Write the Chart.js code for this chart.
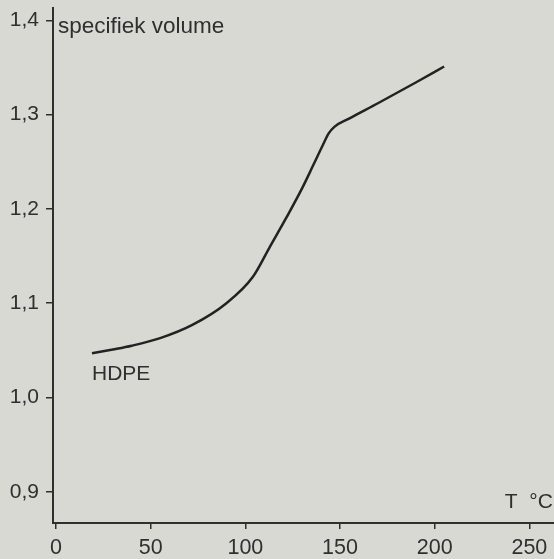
<!DOCTYPE html>
<html>
<head>
<meta charset="utf-8">
<script src="https://cdn.jsdelivr.net/npm/chart.js@4/dist/chart.umd.min.js"></script>
<style>
  html, body { margin: 0; padding: 0; background: #d9d9d4; }
  #wrap { width: 554px; height: 559px; position: relative; }
</style>
</head>
<body>
<div id="wrap"><canvas id="c"></canvas></div>
<script>
// Temperature (°C) and specific volume of HDPE
const temperature = [19, 30, 40, 55, 72, 90, 104, 113, 122, 130, 136, 141, 144, 147, 155, 170, 190, 205];
const specificVolume = [1.047, 1.051, 1.055, 1.063, 1.077, 1.100, 1.128, 1.160, 1.192, 1.222, 1.247, 1.268, 1.280, 1.287, 1.296, 1.312, 1.334, 1.351];
const xTicks = [0, 50, 100, 150, 200, 250];
const yTicks = [0.9, 1.0, 1.1, 1.2, 1.3, 1.4];
const yTickLabels = ['0,9', '1,0', '1,1', '1,2', '1,3', '1,4'];
const yAxisLabel = 'specifiek volume';
const xAxisLabel = 'T  °C';
const seriesLabel = 'HDPE';

const ink = '#2f2f2f';
const font = 'Liberation Sans, Arial, Helvetica, sans-serif';

const bgPlugin = {
  id: 'bg',
  beforeDraw(chart) {
    const ctx = chart.ctx;
    ctx.save();
    ctx.fillStyle = '#d9d9d4';
    ctx.fillRect(0, 0, chart.width, chart.height);
    ctx.restore();
  }
};

const labelPlugin = {
  id: 'labels',
  afterDraw(chart) {
    const ctx = chart.ctx;
    const xs = chart.scales.x, ys = chart.scales.y;
    ctx.save();
    ctx.fillStyle = ink;
    ctx.textBaseline = 'alphabetic';
    ctx.textAlign = 'left';
    ctx.font = '22.5px ' + font;
    ctx.fillText(yAxisLabel, xs.left + 5, ys.getPixelForValue(1.4) + 13);
    ctx.font = '21px ' + font;
    ctx.fillText(seriesLabel, xs.getPixelForValue(temperature[0]), ys.getPixelForValue(specificVolume[0]) + 27);
    ctx.fillText(xAxisLabel, xs.getPixelForValue(237), ys.bottom - 15);
    ctx.restore();
  }
};

new Chart(document.getElementById('c'), {
  type: 'line',
  data: {
    datasets: [{
      label: seriesLabel,
      data: temperature.map((t, i) => ({ x: t, y: specificVolume[i] })),
      borderColor: '#222',
      borderWidth: 2.5,
      pointRadius: 0,
      fill: false,
      cubicInterpolationMode: 'monotone'
    }]
  },
  options: {
    responsive: true,
    maintainAspectRatio: false,
    animation: false,
    layout: { padding: { top: 8, right: 0, left: 0, bottom: 0 } },
    plugins: { legend: { display: false }, tooltip: { enabled: false } },
    scales: {
      x: {
        type: 'linear',
        min: -1.6,
        max: 263,
        afterBuildTicks: s => { s.ticks = xTicks.map(v => ({ value: v })); },
        afterFit: s => { s.height = 36; s.paddingLeft = 0; s.paddingRight = 0; },
        grid: { drawOnChartArea: false, drawTicks: true, tickLength: 6, color: ink, lineWidth: 1.5 },
        border: { display: true, color: ink, width: 2 },
        ticks: { color: ink, font: { family: font, size: 21.5 }, padding: 6, maxRotation: 0, autoSkip: false }
      },
      y: {
        type: 'linear',
        min: 0.867,
        max: 1.413,
        afterBuildTicks: s => { s.ticks = yTicks.map(v => ({ value: v })); },
        afterFit: s => { s.width = 53; s.paddingTop = 0; s.paddingBottom = 0; },
        grid: { drawOnChartArea: false, drawTicks: true, tickLength: 7, color: ink, lineWidth: 1.5 },
        border: { display: true, color: ink, width: 2 },
        ticks: {
          color: ink, font: { family: font, size: 21 }, padding: 7, autoSkip: false,
          callback: (v) => { const i = yTicks.findIndex(t => Math.abs(t - v) < 1e-6); return i >= 0 ? yTickLabels[i] : ''; }
        }
      }
    }
  },
  plugins: [bgPlugin, labelPlugin]
});
</script>
</body>
</html>
